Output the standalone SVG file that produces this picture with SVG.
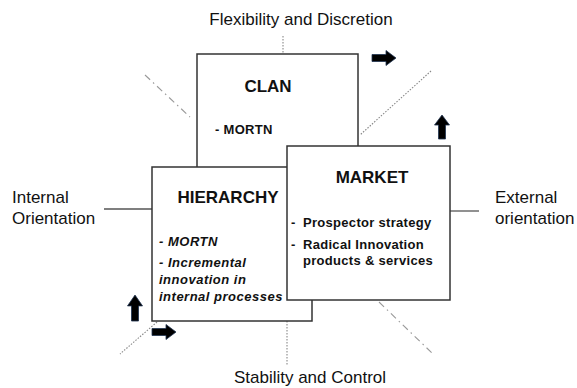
<svg xmlns="http://www.w3.org/2000/svg" width="577" height="388" viewBox="0 0 577 388">
<style>
text{font-family:"Liberation Sans",Arial,sans-serif;fill:#111}
.axis{font-size:17px}
.title{font-size:17px;font-weight:bold}
.item{font-size:13px;font-weight:bold;letter-spacing:0.3px}
.ital{font-style:italic;letter-spacing:0.5px}
.box{fill:#fff;stroke:#333;stroke-width:1.5}
.axisline{stroke:#555;stroke-width:1.3;fill:none}
.dot{stroke:#888;stroke-width:1.1;stroke-dasharray:1.5,1.5;fill:none}
.dash{stroke:#999;stroke-width:1.1;stroke-dasharray:7,4,1.5,4;fill:none}
.arrow{fill:#000;stroke:#1f3350;stroke-width:0.8}
</style>
<defs>
<path id="arr" d="M0,-3.5 L14,-3.5 L14,-7.5 L24,0 L14,7.5 L14,3.5 L0,3.5 Z"/>
</defs>
<g id="connectors">
<line class="axisline" x1="104" y1="209" x2="152" y2="209"/>
<line class="axisline" x1="450" y1="211" x2="479" y2="211"/>
<line class="dot" x1="283" y1="36" x2="283" y2="54"/>
<line class="dot" x1="287" y1="321" x2="287" y2="366"/>
<line class="dash" x1="145" y1="75" x2="190" y2="117"/>
<line class="dot" x1="431" y1="71" x2="360" y2="135"/>
<line class="dot" x1="157" y1="322" x2="120" y2="354"/>
<line class="dash" x1="379" y1="302" x2="432" y2="353"/>
<use href="#arr" class="arrow" transform="translate(372,58)"/>
<use href="#arr" class="arrow" transform="translate(442,139) rotate(-90)"/>
<use href="#arr" class="arrow" transform="translate(135,321) rotate(-90) scale(1.08,1)"/>
<use href="#arr" class="arrow" transform="translate(152,332)"/>
</g>
<g id="axis-labels">
<text class="axis" x="301" y="25" text-anchor="middle">Flexibility and Discretion</text>
<text class="axis" x="310" y="383" text-anchor="middle">Stability and Control</text>
<text class="axis" x="12" y="203">Internal</text>
<text class="axis" x="12" y="224">Orientation</text>
<text class="axis" x="495" y="203">External</text>
<text class="axis" x="495" y="224">orientation</text>
</g>
<g id="clan">
<rect class="box" x="197" y="54" width="161" height="130"/>
<text class="title" x="268" y="92" text-anchor="middle">CLAN</text>
<text class="item" x="215" y="134">- MORTN</text>
</g>
<g id="hierarchy">
<rect class="box" x="152" y="167" width="160" height="154"/>
<text class="title" x="228" y="203" text-anchor="middle">HIERARCHY</text>
<text class="item ital" x="159" y="246">- MORTN</text>
<text class="item ital" x="159" y="267">- Incremental</text>
<text class="item ital" x="159" y="284">innovation in</text>
<text class="item ital" x="159" y="301">internal processes</text>
</g>
<g id="market">
<rect class="box" x="287" y="146" width="163" height="154"/>
<text class="title" x="372" y="183" text-anchor="middle">MARKET</text>
<text class="item" x="291" y="227">-</text>
<text class="item" x="303" y="227">Prospector strategy</text>
<text class="item" x="291" y="249">-</text>
<text class="item" x="303" y="249">Radical Innovation</text>
<text class="item" x="303" y="265">products &amp; services</text>
</g>
</svg>
